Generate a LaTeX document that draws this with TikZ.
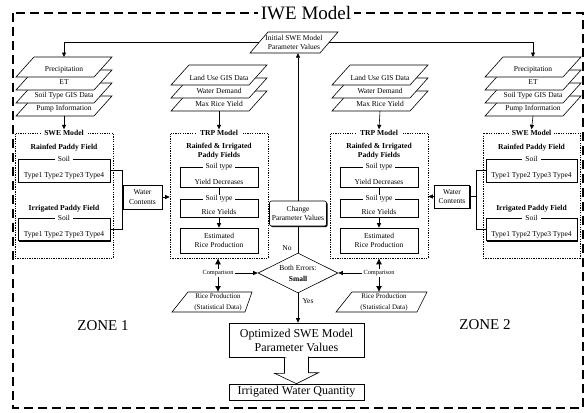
\documentclass[tikz,border=0pt]{standalone}
\usepackage{fontspec}
\setmainfont{Liberation Serif}
\usetikzlibrary{arrows.meta,shapes.geometric,shadows}
\tikzset{
  txt/.style={font=\fontsize{7.5}{9.5}\selectfont, align=center, inner sep=0.5pt},
  small txt/.style={font=\fontsize{6.3}{8}\selectfont, inner sep=1pt},
  head/.style={font=\fontsize{7.6}{9}\selectfont\bfseries, align=center, inner sep=1pt},
  border label/.style={txt, fill=white, inner xsep=3pt, inner ysep=0.5pt},
  head label/.style={head, fill=white, inner xsep=3pt, inner ysep=0.5pt},
  model box/.style={draw, line width=0.6pt, dash pattern=on 1.3pt off 1.1pt, inner sep=0pt},
  shadow box/.style={draw, fill=white, line width=0.6pt, inner sep=0pt,
    drop shadow={shadow xshift=1.1pt, shadow yshift=-1.1pt, opacity=1, fill=black}},
  arr/.style={-{Triangle[length=4.5pt,width=4pt]}, line width=0.6pt},
  fat arr/.style={-{Latex[length=6pt,width=6pt]}, line width=0.8pt},
  zone frame/.style={line width=1.8pt, dash pattern=on 9pt off 5pt},
  slab line/.style={fill=white, line width=0.6pt}
}
% one layer of a data stack: centre x, top y
\newcommand{\slab}[2]{%
  \filldraw[slab line] ({#1-48},{#2+20}) -- ({#1-30},#2) -- ({#1+48},#2) -- ({#1+30},{#2+20}) -- cycle;}

\begin{document}
\begin{tikzpicture}[x=1pt, y=-1pt]
\useasboundingbox (0,0) rectangle (585,412);

% outer frame
\draw[zone frame] (13,13) rectangle (583,408);
\node[font=\fontsize{19}{19}\selectfont, fill=white, inner xsep=3pt, inner ysep=0pt] (title) at (306,13) {IWE Model};

% initial parameters
\filldraw[slab line] (250,53) -- (268,32) -- (338,32) -- (320,53) -- cycle;
\node[txt, minimum width=70pt, minimum height=21pt, inner sep=0pt] (init) at (294,42.5) {Initial SWE Model\\Parameter Values};

% input data stacks
\foreach \t/\n/\s in {96/4/Pump Information,83/3/Soil Type GIS Data,70/2/ET,57/1/Precipitation}{
  \slab{64}{\t}
  \node[txt] (inL\n) at (64,{\t+12.5}) {\s};
  \slab{533}{\t}
  \node[txt] (inR\n) at (533,{\t+12.5}) {\s};
}
\foreach \t/\n/\s in {91/3/Max Rice Yield,78/2/Water Demand,65/1/Land Use GIS Data}{
  \slab{219}{\t}
  \node[txt] (lu\n) at (219,{\t+12.5}) {\s};
  \slab{380}{\t}
  \node[txt] (ru\n) at (380,{\t+12.5}) {\s};
}
\coordinate (inL-top) at (64,57);
\coordinate (inL-bot) at (64,116);
\coordinate (inR-top) at (533,57);
\coordinate (inR-bot) at (533,116);
\coordinate (lu-bot) at (219,111);
\coordinate (ru-bot) at (380,111);

% SWE model, zone 1
\node[model box, minimum width=98pt, minimum height=125pt] (sweL) at (64,195.5) {};
\node[head label] (sweLh) at (sweL.north) {SWE Model};
\node[head] (rfL) at (64,148) {Rainfed Paddy Field};
\node[shadow box, minimum width=92pt, minimum height=23pt] (soilL1) at (64,170.5) {};
\node[border label] (soilL1h) at (soilL1.north) {Soil};
\node[txt] (typL1) at (64,176) {Type1 Type2 Type3 Type4};
\node[head] (irL) at (64,209) {Irrigated Paddy Field};
\node[shadow box, minimum width=92pt, minimum height=22pt] (soilL2) at (64,229.5) {};
\node[border label] (soilL2h) at (soilL2.north) {Soil};
\node[txt] (typL2) at (64,235) {Type1 Type2 Type3 Type4};

% SWE model, zone 2
\node[model box, minimum width=97pt, minimum height=125pt] (sweR) at (531.5,195.5) {};
\node[head label] (sweRh) at (sweR.north) {SWE Model};
\node[head] (rfR) at (531.5,148) {Rainfed Paddy Field};
\node[shadow box, minimum width=91pt, minimum height=23pt] (soilR1) at (531.5,170.5) {};
\node[border label] (soilR1h) at (soilR1.north) {Soil};
\node[txt] (typR1) at (531.5,176) {Type1 Type2 Type3 Type4};
\node[head] (irR) at (531.5,209) {Irrigated Paddy Field};
\node[shadow box, minimum width=91pt, minimum height=22pt] (soilR2) at (531.5,229.5) {};
\node[border label] (soilR2h) at (soilR2.north) {Soil};
\node[txt] (typR2) at (531.5,235) {Type1 Type2 Type3 Type4};

% TRP model, zone 1
\node[model box, minimum width=98pt, minimum height=125pt] (trpL) at (219,195.5) {};
\node[head label] (trpLh) at (trpL.north) {TRP Model};
\node[head] (pfL) at (219,151) {Rainfed \& Irrigated\\Paddy Fields};
\node[shadow box, minimum width=78pt, minimum height=20pt] (ydL) at (219,177) {};
\node[border label] (ydLh) at (ydL.north) {Soil type};
\node[txt] (ydLt) at (219,181.5) {Yield Decreases};
\node[shadow box, minimum width=78pt, minimum height=18pt] (ryL) at (219,208) {};
\node[border label] (ryLh) at (ryL.north) {Soil type};
\node[txt] (ryLt) at (219,211.5) {Rice Yields};
\node[shadow box, txt, minimum width=78pt, minimum height=25pt] (epL) at (219,240.5) {Estimated\\Rice Production};

% TRP model, zone 2
\node[model box, minimum width=98pt, minimum height=125pt] (trpR) at (379,195.5) {};
\node[head label] (trpRh) at (trpR.north) {TRP Model};
\node[head] (pfR) at (379,151) {Rainfed \& Irrigated\\Paddy Fields};
\node[shadow box, minimum width=78pt, minimum height=20pt] (ydR) at (379,177) {};
\node[border label] (ydRh) at (ydR.north) {Soil type};
\node[txt] (ydRt) at (379,181.5) {Yield Decreases};
\node[shadow box, minimum width=78pt, minimum height=18pt] (ryR) at (379,208) {};
\node[border label] (ryRh) at (ryR.north) {Soil type};
\node[txt] (ryRt) at (379,211.5) {Rice Yields};
\node[shadow box, txt, minimum width=78pt, minimum height=25pt] (epR) at (379,240.5) {Estimated\\Rice Production};

% water contents
\node[shadow box, txt, minimum width=39pt, minimum height=24pt] (wcL) at (142.5,197) {Water\\Contents};
\node[shadow box, txt, minimum width=35pt, minimum height=23pt] (wcR) at (452,196.5) {Water\\Contents};
\coordinate (wcRj) at (476,196.5);

% statistical data
\filldraw[slab line] (172,312) -- (188,292) -- (252,292) -- (245,312) -- cycle;
\node[txt, font=\fontsize{7}{11}\selectfont] (rpL) at (218,302.5) {Rice Production\\(Statistical Data)};
\filldraw[slab line] (336,312) -- (352,292) -- (427,292) -- (417,312) -- cycle;
\node[txt, font=\fontsize{7}{11}\selectfont] (rpR) at (384,302.5) {Rice Production\\(Statistical Data)};
\coordinate (rpL-top) at (218,292);
\coordinate (rpR-top) at (379,292);

\node[small txt] (cmpL) at (218,273) {Comparison};
\node[small txt] (cmpR) at (379,273) {Comparison};

% check and feedback
\node[draw, diamond, line width=0.6pt, aspect=2, minimum width=80pt, minimum height=40pt, inner sep=0pt,
  txt, font=\fontsize{7.5}{11}\selectfont] (dia) at (298,273) {Both Errors:\\\textbf{Small}};
\node[shadow box, txt, rounded corners=2pt, minimum width=57pt, minimum height=25pt] (chg) at (298,213.5) {Change\\Parameter Values};
\node[txt] (no) at (287,248) {No};
\node[txt] (yes) at (308,301) {Yes};

% results
\node[shadow box, font=\fontsize{12}{14}\selectfont, align=center, minimum width=135pt, minimum height=34pt] (opt) at (296.5,340) {Optimized SWE Model\\Parameter Values};
\node[shadow box, font=\fontsize{12}{14}\selectfont, minimum width=135pt, minimum height=16pt] (irr) at (296.5,392) {Irrigated Water Quantity};

\node[font=\fontsize{15}{15}\selectfont] (zone1) at (103,326) {ZONE 1};
\node[font=\fontsize{15}{15}\selectfont] (zone2) at (485,325) {ZONE 2};

% connectors
\draw[arr] (init.west) -| (inL-top);
\draw[arr] (init.east) -| (inR-top);
\draw[arr] (inL-bot) -- (sweLh.north);
\draw[arr] (inR-bot) -- (sweRh.north);
\draw[arr] (lu-bot) -- (trpLh.north);
\draw[arr] (ru-bot) -- (trpRh.north);

\draw[line width=0.6pt] (soilL1.east) -| (wcL.west);
\draw[line width=0.6pt] (soilL2.east) -| (wcL.west);
\draw[arr] (wcL.east) -- (wcL.east -| trpL.west);
\draw[line width=0.6pt] (soilR1.west) -| (wcRj);
\draw[line width=0.6pt] (soilR2.west) -| (wcRj);
\draw[line width=0.6pt] (wcR.east) -- (wcRj);
\draw[arr] (wcR.west) -- (wcR.west -| trpR.east);

\draw[line width=0.6pt] (ydL.south) -- (ryLh.north);
\draw[arr] (ryL.south) -- (epL.north);
\draw[line width=0.6pt] (ydR.south) -- (ryRh.north);
\draw[arr] (ryR.south) -- (epR.north);

\draw[fat arr] (cmpL.north) -- (cmpL.north |- trpL.south);
\draw[fat arr] (cmpL.south) -- (rpL-top);
\draw[fat arr] (cmpR.north) -- (cmpR.north |- trpR.south);
\draw[fat arr] (cmpR.south) -- (rpR-top);
\draw[arr] (cmpL.east) -- (dia.west);
\draw[arr] (cmpR.west) -- (dia.east);

\draw[line width=0.6pt] (dia.north) -- (chg.south);
\draw[arr] (chg.north) -- (chg.north |- init.south);
\draw[arr] (dia.south) -- (dia.south |- opt.north);

% hollow arrow
\draw[fill=white, line width=0.6pt] (opt.south) ++(-12,0) -- ++(0,16) -- ++(-10,0) -- (irr.north)
  -- ++(22,-11) -- ++(-10,0) -- ++(0,-16);

\end{tikzpicture}
\end{document}
